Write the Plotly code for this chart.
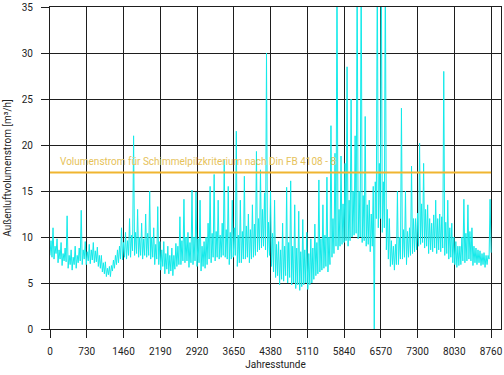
import plotly.graph_objects as go

# Hourly outdoor air volume flow, sampled every 20 hours (read from the chart,
# low / high of the band per 40-hour slot)
step_hours = 20
flow_values = [
    8.0, 9.6, 7.8, 11.0, 7.6, 9.0, 8.2, 9.8,
    7.2, 8.6, 7.6, 9.4, 6.9, 8.2, 7.4, 8.8,
    7.3, 12.3,
    6.6, 8.0, 7.0, 8.6, 6.4, 7.8,
    7.0, 9.0, 6.6, 8.0, 7.2, 8.8,
    7.4, 12.9,
    7.0, 8.6, 7.6, 9.5, 7.0, 8.4,
    7.4, 9.2, 7.1, 8.6, 7.5, 9.4, 7.2, 8.5, 7.3, 8.9, 6.8, 8.0,
    6.6, 8.0, 6.2, 7.2, 6.0, 7.3, 5.7, 6.6,
    5.9, 6.8, 5.7, 6.9,
    6.3, 7.5, 6.6, 8.0, 7.0, 8.6, 7.2, 9.0, 7.6, 11.0, 7.5, 9.4,
    7.8, 10.5, 7.6, 9.6, 8.0, 12.0, 7.8, 10.2,
    8.5, 21.0,
    8.0, 10.5, 8.2, 13.0, 7.8, 10.0, 8.0, 11.5, 7.6, 9.8, 8.0, 12.5, 7.8, 10.4,
    8.0, 15.0,
    7.6, 10.0, 7.8, 11.0, 7.0, 9.2, 7.6, 13.3, 7.0, 9.5,
    6.4, 8.6, 6.8, 9.5, 6.0, 8.2, 6.5, 9.0, 6.0, 8.0,
    6.3, 8.8, 5.8, 8.0, 6.5, 9.3, 6.8, 9.0,
    7.0, 12.2,
    7.0, 9.6, 7.4, 14.1, 7.2, 10.0,
    7.4, 10.5, 6.7, 9.4, 7.2, 15.1, 7.0, 10.0, 7.4, 14.9,
    6.8, 9.8, 7.2, 14.0, 6.3, 9.0,
    6.8, 9.5, 6.6, 10.0, 7.0, 11.5,
    7.6, 15.5, 7.2, 10.4, 7.8, 16.8,
    7.4, 10.6, 7.8, 14.0, 7.6, 10.2,
    7.8, 11.5, 8.0, 18.4, 7.8, 10.8,
    7.6, 15.5, 7.0, 10.5, 7.6, 14.0, 7.8, 11.0,
    8.0, 21.5,
    6.8, 10.2, 7.2, 14.0, 7.2, 10.6,
    7.6, 16.6, 7.6, 11.2, 7.8, 12.5,
    7.2, 10.8, 7.6, 13.5, 7.8, 11.4,
    8.0, 19.3, 8.4, 12.0, 8.6, 17.3,
    8.8, 13.0, 9.0, 14.8,
    8.6, 30.0,
    7.8, 11.6, 8.0, 15.0, 6.8, 10.4,
    6.2, 14.0, 5.6, 9.2, 5.8, 9.5, 4.8, 8.6, 5.4, 11.5,
    5.2, 9.0, 5.8, 15.4, 5.0, 9.4, 5.6, 16.1,
    4.8, 9.0, 5.0, 13.5, 4.4, 8.8, 4.8, 12.8, 4.2, 8.4, 4.6, 11.9,
    4.8, 8.6, 5.0, 10.5, 4.3, 8.2, 4.8, 9.8, 5.0, 8.8,
    5.4, 11.4, 5.8, 9.4, 6.0, 16.2, 6.2, 9.8,
    6.4, 13.5, 6.6, 10.2, 6.8, 16.5, 6.2, 10.0,
    7.0, 22.1, 7.8, 12.0, 8.2, 19.1,
    9.0, 40.0,
    8.6, 13.0, 9.0, 18.8, 9.2, 13.6, 9.4, 18.0,
    9.6, 28.5,
    9.0, 14.0, 9.6, 25.0, 10.0, 15.0, 10.2, 21.0,
    10.4, 40.0, 9.8, 15.0, 10.0, 40.0, 9.4, 14.5, 9.6, 23.1,
    9.0, 13.5, 9.2, 14.0, 8.4, 12.5, 9.0, 15.5,
    0.0, 16.0, 12.0, 40.0, 11.0, 18.0, 12.0, 40.0, 10.5, 16.0, 11.0, 40.0,
    8.6, 13.0, 7.6, 12.0, 6.8, 9.6, 7.0, 9.0, 6.4, 9.2,
    7.0, 15.0, 7.0, 10.0, 7.6, 24.0, 7.6, 10.8, 7.8, 15.0,
    7.0, 10.6, 7.8, 11.0, 8.0, 17.7, 8.2, 12.0, 8.4, 12.0,
    8.6, 12.6, 9.0, 20.2, 9.2, 13.6, 9.4, 18.0, 8.8, 13.0,
    9.0, 13.5, 8.2, 12.0, 8.6, 11.5, 8.4, 12.4, 8.8, 14.0,
    8.2, 12.0, 8.6, 12.5, 8.4, 12.2, 8.8, 28.0, 8.0, 11.6,
    8.2, 14.0, 7.6, 11.0, 7.8, 11.5, 7.2, 10.0, 7.0, 9.5,
    6.7, 9.0, 6.9, 9.0, 7.0, 10.0, 7.4, 14.1, 7.2, 10.4,
    7.4, 13.5, 7.6, 10.6, 7.4, 11.0, 6.9, 9.0, 7.2, 8.8,
    7.0, 8.6, 7.2, 8.5, 6.9, 8.2, 7.0, 8.3, 6.7, 8.0,
    7.0, 8.0, 7.6, 14.1,
    8.3,
]
hours = [i * step_hours for i in range(len(flow_values))]

threshold = 17.0
threshold_label = "Volumenstrom für Schimmelpilzkriterium nach Din FB 4108 - 8"
threshold_span = [0, 8760]

x_ticks = [0, 730, 1460, 2190, 2920, 3650, 4380, 5110, 5840, 6570, 7300, 8030, 8760]
y_ticks = [0, 5, 10, 15, 20, 25, 30, 35]

FONT = "Roboto"
GRID = "#1e1e1e"

fig = go.Figure()
fig.add_trace(go.Scatter(
    x=hours, y=flow_values, mode="lines",
    line=dict(color="#12EAEA", width=1),
    showlegend=False, hoverinfo="skip",
))
fig.add_trace(go.Scatter(
    x=threshold_span, y=[threshold, threshold], mode="lines",
    line=dict(color="#F0B530", width=2),
    showlegend=False, hoverinfo="skip",
))
fig.add_annotation(
    x=160, y=18.2, xref="x", yref="y", text=threshold_label,
    showarrow=False, xanchor="left", yanchor="middle",
    font=dict(family=FONT, size=10, color="#E6C25A"),
)

fig.update_layout(
    width=504, height=375,
    margin=dict(l=50, r=3, t=7, b=46, autoexpand=False),
    paper_bgcolor="white", plot_bgcolor="white",
    font=dict(family=FONT, size=10, color="#222222"),
    hovermode=False,
)
fig.update_xaxes(
    range=[0, 8957], tickvals=x_ticks, ticktext=[str(v) for v in x_ticks],
    showgrid=True, gridcolor=GRID, gridwidth=1,
    showline=True, linecolor=GRID, linewidth=1, mirror=True,
    ticks="outside", ticklen=8, tickcolor=GRID,
    zeroline=False, automargin=False, ticklabelstandoff=5,
    title=dict(text="Jahresstunde", font=dict(size=10), standoff=4),
    tickfont=dict(size=10),
)
fig.update_yaxes(
    range=[0, 35], tickvals=y_ticks,
    showgrid=True, gridcolor=GRID, gridwidth=1,
    showline=True, linecolor=GRID, linewidth=1, mirror=True,
    ticks="outside", ticklen=8, tickcolor=GRID,
    zeroline=False, automargin=False, ticklabelstandoff=6,
    title=dict(text="Außenluftvolumenstrom [m³/h]", font=dict(size=10), standoff=8),
    tickfont=dict(size=10),
)

fig.write_html("out.html", config={"displayModeBar": False})

# remove the default page margin so the figure sits at the window's top-left
with open("out.html", encoding="utf-8") as f:
    html = f.read()
html = html.replace(
    "<head>",
    "<head><style>html,body{margin:0;padding:0;overflow:hidden;}</style>",
    1,
)
with open("out.html", "w", encoding="utf-8") as f:
    f.write(html)
